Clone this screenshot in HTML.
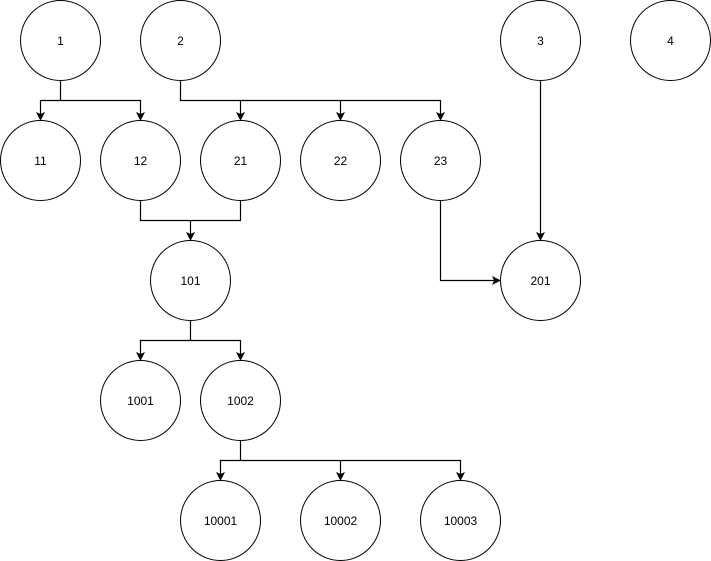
<!DOCTYPE html>
<html><head><meta charset="utf-8"><style>html,body{margin:0;padding:0;background:#fff}svg{display:block}</style></head>
<body>
<svg width="711" height="561" viewBox="0 0 711 561" xmlns="http://www.w3.org/2000/svg">
<defs><marker id="a" markerWidth="10" markerHeight="10" refX="5" refY="8" orient="auto-start-reverse" markerUnits="userSpaceOnUse" viewBox="0 0 10 10"><path d="M1,0 L5,8 L9,0 L5,2 Z" transform="rotate(0)" fill="#000"/></marker>
</defs>
<g fill="none" stroke="#000" stroke-width="1.2">
<g id="arrows">
<path d="M60.5 80V100.5H40.5V119"/>
<path d="M60.5 100.5H140.5V119"/>
<path d="M180.5 80V100.5H240.5V119"/>
<path d="M240.5 100.5H340.5V119"/>
<path d="M340.5 100.5H440.5V119"/>
<path d="M140.5 200V220.5H240.5V200"/>
<path d="M190.5 220.5V239"/>
<path d="M190.5 320V340.5H140.5V359"/>
<path d="M190.5 340.5H240.5V359"/>
<path d="M240.5 440V460.5H220.5V479"/>
<path d="M240.5 460.5H460.5V479"/>
<path d="M340.5 460.5V479"/>
<path d="M440.5 200V280.5H499"/>
<path d="M540.5 80V239"/>
</g>
</g>
<g fill="#000">
<path d="M36 112L40.5 121L45 112L40.5 114Z"/>
<path d="M136 112L140.5 121L145 112L140.5 114Z"/>
<path d="M236 112L240.5 121L245 112L240.5 114Z"/>
<path d="M336 112L340.5 121L345 112L340.5 114Z"/>
<path d="M436 112L440.5 121L445 112L440.5 114Z"/>
<path d="M186 232L190.5 241L195 232L190.5 234Z"/>
<path d="M536 232L540.5 241L545 232L540.5 234Z"/>
<path d="M136 352L140.5 361L145 352L140.5 354Z"/>
<path d="M236 352L240.5 361L245 352L240.5 354Z"/>
<path d="M216 472L220.5 481L225 472L220.5 474Z"/>
<path d="M336 472L340.5 481L345 472L340.5 474Z"/>
<path d="M456 472L460.5 481L465 472L460.5 474Z"/>
<path d="M492 276L501 280.5L492 285L494 280.5Z"/>
</g>
<g fill="#fff" stroke="#000" stroke-width="1">
<circle cx="60.5" cy="40.5" r="40"/><circle cx="180.5" cy="40.5" r="40"/><circle cx="540.5" cy="40.5" r="40"/><circle cx="670.5" cy="40.5" r="40"/>
<circle cx="40.5" cy="160.5" r="40"/><circle cx="140.5" cy="160.5" r="40"/><circle cx="240.5" cy="160.5" r="40"/><circle cx="340.5" cy="160.5" r="40"/><circle cx="440.5" cy="160.5" r="40"/>
<circle cx="190.5" cy="280.5" r="40"/><circle cx="540.5" cy="280.5" r="40"/>
<circle cx="140.5" cy="400.5" r="40"/><circle cx="240.5" cy="400.5" r="40"/>
<circle cx="220.5" cy="520.5" r="40"/><circle cx="340.5" cy="520.5" r="40"/><circle cx="460.5" cy="520.5" r="40"/>
</g>
<g font-family="Liberation Sans, sans-serif" font-size="12" text-anchor="middle" fill="#000">
<text x="60.5" y="45">1</text><text x="180.5" y="45">2</text><text x="540.5" y="45">3</text><text x="670.5" y="45">4</text>
<text x="40.5" y="165">11</text><text x="140.5" y="165">12</text><text x="240.5" y="165">21</text><text x="340.5" y="165">22</text><text x="440.5" y="165">23</text>
<text x="190.5" y="285">101</text><text x="540.5" y="285">201</text>
<text x="140.5" y="405">1001</text><text x="240.5" y="405">1002</text>
<text x="220.5" y="525">10001</text><text x="340.5" y="525">10002</text><text x="460.5" y="525">10003</text>
</g>
</svg>
</body></html>
